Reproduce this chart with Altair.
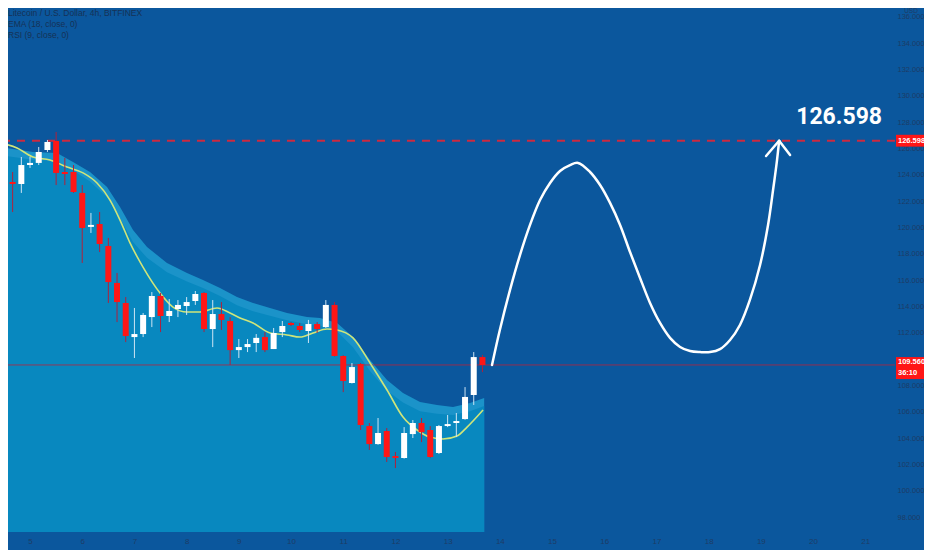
import altair as alt
import pandas as pd

# ---------------- data ----------------
# 4h candles, first candle at day 4.5 (4 Jun 12:00), six candles per day
first_day = 4.5
opens = [125.36, 123.46, 123.31, 124.75, 124.91, 125.89, 126.58, 124.22, 124.22, 122.63,
         120.05, 120.27, 118.60, 115.79, 114.27, 111.68, 111.91, 113.20, 114.80, 113.28,
         113.81, 114.04, 114.42, 115.03, 112.29, 113.43, 112.90, 110.69, 110.92, 111.23,
         111.68, 110.77, 112.06, 112.75, 112.52, 112.14, 112.67, 112.44, 114.12, 110.24,
         108.19, 109.63, 104.92, 103.55, 104.54, 102.64, 102.49, 104.31, 105.15, 104.62,
         102.87, 104.92, 105.15, 105.45, 107.28, 110.16]
highs = [125.51, 124.22, 125.36, 125.36, 126.12, 126.65, 127.26, 125.29, 124.75, 123.23,
         121.11, 121.18, 119.21, 116.55, 114.72, 113.89, 113.51, 115.10, 115.03, 114.57,
         114.49, 114.72, 115.18, 115.10, 114.49, 114.34, 113.20, 111.53, 111.53, 111.91,
         112.06, 112.37, 112.90, 112.82, 112.75, 112.98, 112.82, 114.49, 114.34, 110.30,
         109.71, 109.71, 105.15, 105.53, 104.77, 102.95, 104.84, 105.38, 105.53, 104.92,
         105.00, 105.76, 105.91, 107.88, 110.54, 110.32]
lows = [122.85, 121.18, 122.63, 124.53, 124.75, 125.74, 123.23, 123.23, 122.63, 117.31,
        119.59, 118.14, 114.27, 112.82, 111.30, 110.09, 111.68, 112.44, 112.06, 112.82,
        113.20, 113.36, 114.12, 112.06, 110.92, 112.22, 109.56, 110.09, 110.54, 110.54,
        110.54, 110.77, 111.68, 112.52, 112.06, 111.23, 111.99, 112.37, 110.20, 107.50,
        108.15, 104.62, 103.10, 103.50, 102.19, 101.73, 102.45, 104.01, 103.70, 102.50,
        102.80, 104.84, 104.08, 105.40, 106.52, 109.02]
closes = [123.16, 123.31, 124.75, 124.91, 125.74, 126.50, 124.15, 124.07, 122.70, 119.97,
          120.20, 118.75, 115.86, 114.34, 111.76, 111.91, 113.36, 114.80, 113.28, 113.66,
          114.12, 114.34, 114.95, 112.29, 113.43, 112.98, 110.69, 110.92, 111.15, 111.62,
          110.69, 111.99, 112.52, 112.60, 112.22, 112.67, 112.29, 114.12, 110.24, 108.34,
          109.40, 105.00, 103.55, 104.39, 102.57, 102.49, 104.39, 105.15, 104.46, 102.57,
          104.92, 105.07, 105.30, 107.13, 110.16, 109.56]

# EMA line
ema_day = [4.425, 4.751, 5.057, 5.383, 5.709, 6.015, 6.283, 6.532, 6.724, 6.915, 7.164, 7.490,
           7.739, 8.007, 8.256, 8.582, 8.831, 9.023, 9.272, 9.597, 9.923, 10.172, 10.421,
           10.689, 10.881, 11.187, 11.513, 11.839, 12.145, 12.414, 12.663, 12.912, 13.180,
           13.372, 13.678]
ema_val = [126.43, 126.05, 125.36, 125.13, 124.60, 124.15, 123.38, 122.09, 120.57, 118.83,
           117.00, 115.03, 113.96, 113.58, 113.58, 113.89, 113.51, 113.13, 112.75, 111.99,
           111.84, 111.68, 111.99, 112.29, 112.22, 111.62, 109.71, 107.66, 105.60, 104.62,
           104.08, 103.93, 104.16, 104.84, 106.14]

# filled band (outer edge and inner edge)
band_day = [4.425, 5.057, 5.517, 5.823, 6.149, 6.475, 6.724, 6.973, 7.241, 7.624, 8.007,
            8.314, 8.640, 8.965, 9.272, 9.597, 9.923, 10.306, 10.555, 10.881, 11.187,
            11.513, 11.839, 12.145, 12.471, 12.797, 13.103, 13.429, 13.700]
band_outer = [126.12, 125.74, 125.67, 124.98, 124.22, 123.08, 121.56, 119.82, 118.52, 117.31,
              116.55, 116.02, 115.41, 114.72, 114.27, 113.89, 113.51, 113.20, 113.13, 112.75,
              111.68, 109.94, 108.42, 107.43, 106.74, 106.52, 106.36, 106.67, 107.05]
band_inner = [125.50, 125.15, 125.05, 124.35, 123.50, 122.30, 120.70, 118.90, 117.70, 116.60,
              115.90, 115.40, 114.80, 114.10, 113.65, 113.30, 112.95, 112.65, 112.55, 112.10,
              110.90, 109.10, 107.60, 106.70, 106.05, 105.85, 105.75, 106.05, 106.45]

# projected path (hand-drawn curve)
path_day = [13.85, 14.00, 14.195, 14.387, 14.578, 14.77, 14.962, 15.153, 15.345, 15.498,
            15.728, 15.92, 16.111, 16.303, 16.494, 16.686, 16.877, 17.069, 17.26, 17.452,
            17.644, 17.835, 18.027, 18.218, 18.41, 18.60, 18.79, 18.985, 19.138, 19.234,
            19.31, 19.35]
path_val = [109.56, 112.22, 115.26, 117.92, 120.20, 122.09, 123.39, 124.30, 124.75, 124.91,
            124.22, 123.23, 121.87, 120.20, 118.14, 116.17, 114.27, 112.75, 111.62, 110.93,
            110.62, 110.54, 110.54, 110.77, 111.46, 112.60, 114.50, 117.16, 120.20, 122.85,
            125.13, 126.58]
arrow_x = [19.10, 19.56]
arrow_y = [125.44, 125.51]

target_price = 126.598
last_price = 109.56
countdown = "36:10"
x_ticks = list(range(5, 22))
y_ticks = list(range(98, 137, 2))
legend_lines = ["Litecoin / U.S. Dollar, 4h, BITFINEX", "EMA (18, close, 0)", "RSI (9, close, 0)"]

# ---------------- styling ----------------
BG = "#0b579d"
AREA = "#0888bf"
BAND = "#1b93c9"
RED = "#ff1616"
WHITE = "#ffffff"
LABEL = "#1d3c66"
SANS = "Liberation Sans, DejaVu Sans, sans-serif"
W, H = 887, 524
RIGHT = 29
X_DOM = [4.578, 21.57]
Y_DOM = [96.87, 136.68]

xs = alt.Scale(domain=X_DOM, nice=False, zero=False, padding=0)
ys = alt.Scale(domain=Y_DOM, nice=False, zero=False, padding=0)
x_axis = alt.Axis(values=x_ticks, format="d", labelColor=LABEL, labelFontSize=8,
                  labelFont=SANS, domain=False, ticks=False, grid=False,
                  title=None, labelPadding=5, labelOverlap=False, labelFlush=False)
y_axis = alt.Axis(orient="right", values=y_ticks, format=".3f", labelColor=LABEL,
                  labelFontSize=7.5, labelFont=SANS, domain=False, ticks=False,
                  grid=False, title=None, labelAlign="left", labelPadding=2,
                  labelOverlap=False, labelFlush=False, zindex=0)


def X(field):
    return alt.X(field, type="quantitative", scale=xs, axis=x_axis)


def Y(field):
    return alt.Y(field, type="quantitative", scale=ys, axis=y_axis)


def XD(value):
    return alt.X(datum=value, type="quantitative", scale=xs, axis=x_axis)


def YD(value):
    return alt.Y(datum=value, type="quantitative", scale=ys, axis=y_axis)


n = len(opens)
candles = pd.DataFrame({
    "day": [first_day + i / 6 for i in range(n)],
    "open": opens, "high": highs, "low": lows, "close": closes,
})
candles["dir"] = ["up" if c >= o else "down" for o, c in zip(opens, closes)]

band = pd.DataFrame({"day": band_day, "outer": band_outer, "inner": band_inner,
                     "base": [Y_DOM[0]] * len(band_day)})
ema = pd.DataFrame({"day": ema_day, "v": ema_val})
path = pd.DataFrame({"day": path_day, "v": path_val})
arrow = pd.DataFrame({"x": arrow_x, "y": arrow_y,
                      "x2": [path_day[-1]] * 2, "y2": [target_price] * 2})

area_outer = alt.Chart(band).mark_area(color=BAND, clip=True).encode(
    x=X("day"), y=Y("outer"), y2="base")
area_inner = alt.Chart(band).mark_area(color=AREA, clip=True).encode(
    x=X("day"), y=Y("inner"), y2="base")

price_line = alt.Chart().mark_rule(color="#b3243e", strokeWidth=1, opacity=0.8).encode(
    y=YD(last_price))
target_line = alt.Chart().mark_rule(color="#cc2a40", strokeWidth=2, strokeDash=[8, 7]).encode(
    y=YD(target_price))

ema_line = alt.Chart(ema).mark_line(color="#cfe57a", strokeWidth=1.6, clip=True,
                                    interpolate="monotone").encode(x=X("day"), y=Y("v"))

color_scale = alt.Scale(domain=["up", "down"], range=[WHITE, RED])
wick_scale = alt.Scale(domain=["up", "down"], range=["#cde4f4", "#b0203c"])
wicks = alt.Chart(candles).mark_rule(strokeWidth=1, clip=True).encode(
    x=X("day"), y=Y("high"), y2="low",
    color=alt.Color("dir:N", scale=wick_scale, legend=None))
bodies = alt.Chart(candles).mark_bar(size=6, clip=True).encode(
    x=X("day"), y=Y("open"), y2="close",
    fill=alt.Fill("dir:N", scale=color_scale, legend=None))

curve = alt.Chart(path).mark_line(color=WHITE, strokeWidth=2.5, interpolate="catmull-rom",
                                  strokeCap="round").encode(x=X("day"), y=Y("v"))
arrow_head = alt.Chart(arrow).mark_rule(color=WHITE, strokeWidth=2.5, strokeCap="round").encode(
    x=X("x"), y=Y("y"), x2="x2", y2="y2")

big_label = alt.Chart().mark_text(
    text=f"{target_price:.3f}", color=WHITE, fontSize=23, fontWeight="bold",
    font="Roboto, sans-serif", align="center", baseline="middle").encode(
    x=XD(20.50), y=YD(128.40))

legend_layers = [
    alt.Chart().mark_text(text=line, align="left", baseline="top", fontSize=8.5,
                          color="#163256", font=SANS).encode(
        x=alt.value(0), y=alt.value(1 + 11 * k))
    for k, line in enumerate(legend_lines)
]

usd = alt.Chart().mark_text(text="USD", align="center", baseline="top", fontSize=6.5,
                            color=LABEL, font=SANS).encode(
    x=alt.value(W + 16), y=alt.value(0))

boxes = pd.DataFrame({"top": [target_price + 0.45, last_price + 0.60],
                      "bottom": [target_price - 0.45, last_price - 1.07]})
box_rects = alt.Chart(boxes).mark_rect(color=RED).encode(
    x=alt.value(W + 1), x2=alt.value(W + RIGHT), y=Y("top"), y2="bottom")
box_text_df = pd.DataFrame({"t": [f"{target_price:.3f}", f"{last_price:.3f}", countdown],
                            "p": [target_price, last_price + 0.22, last_price - 0.61]})
box_text = alt.Chart(box_text_df).mark_text(
    align="left", baseline="middle", fontSize=7.5, color=WHITE, font=SANS,
    fontWeight="bold").encode(x=alt.value(W + 3), y=Y("p"), text="t:N")

chart = alt.layer(
    area_outer, area_inner, price_line, target_line, ema_line, wicks, bodies,
    curve, arrow_head, big_label, *legend_layers, usd, box_rects, box_text
).properties(
    width=W, height=H,
    autosize=alt.AutoSizeParams(type="none"),
    padding={"left": 0, "top": 0, "right": RIGHT, "bottom": 18},
    background=BG,
).configure_view(stroke=None, fill=BG)

chart.save("out.html", embed_options={"renderer": "svg", "actions": False})
